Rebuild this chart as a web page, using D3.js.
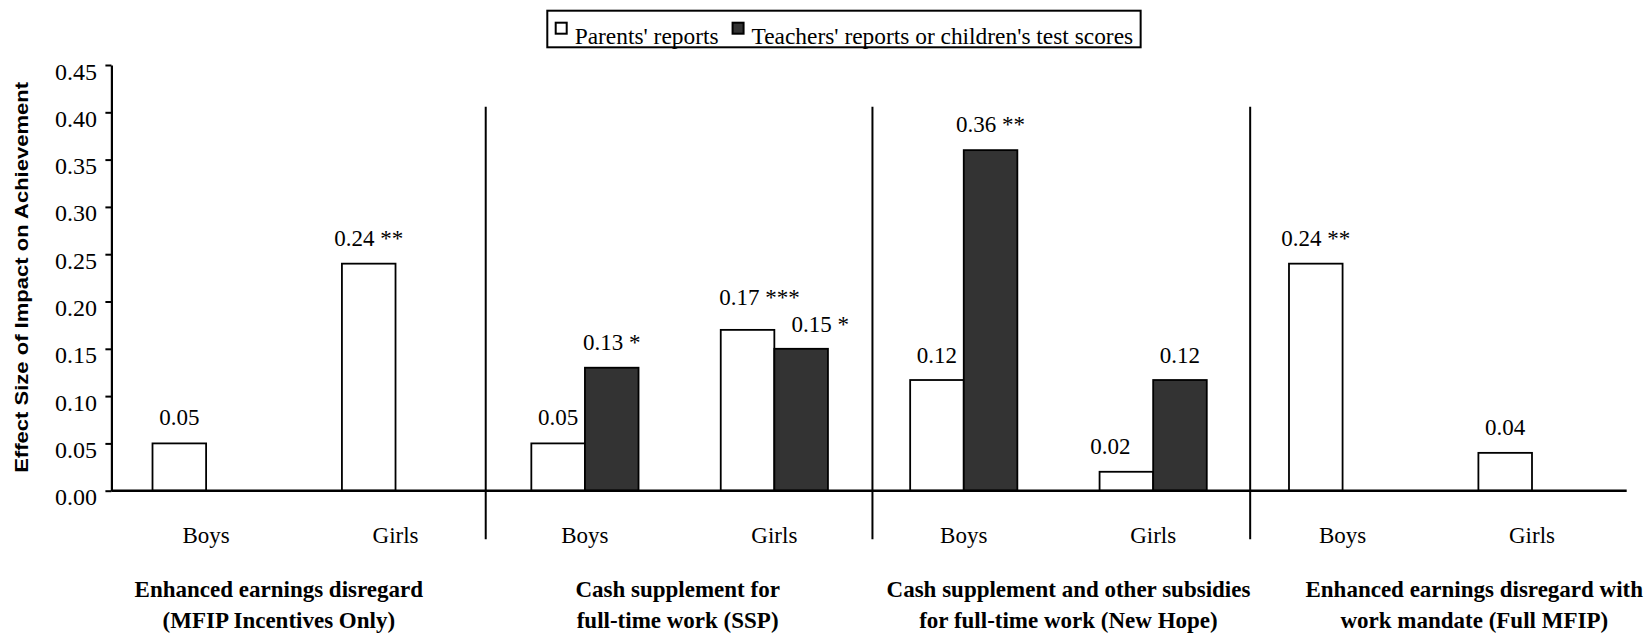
<!DOCTYPE html>
<html>
<head>
<meta charset="UTF-8">
<script src="https://d3js.org/d3.v7.min.js"></script>
<style>
  body { margin: 0; background: #fff; }
</style>
</head>
<body>
<div id="chart"></div>
<script>
// chart values
var programs = [
  ["Enhanced earnings disregard", "(MFIP Incentives Only)"],
  ["Cash supplement for", "full-time work (SSP)"],
  ["Cash supplement and other subsidies", "for full-time work (New Hope)"],
  ["Enhanced earnings disregard with", "work mandate (Full MFIP)"]
];
var sexes = ["Boys", "Girls"];
var seriesNames = ["Parents' reports", "Teachers' reports or children's test scores"];
var parents = [0.05, 0.24, 0.05, 0.17, 0.117, 0.02, 0.24, 0.04];
var teachers = [null, null, 0.13, 0.15, 0.36, 0.117, null, null];
var parentLabels = ["0.05", "0.24 **", "0.05", "0.17 ***", "0.12", "0.02", "0.24 **", "0.04"];
var teacherLabels = [null, null, "0.13 *", "0.15 *", "0.36 **", "0.12", null, null];
var yTicks = [0, 0.05, 0.10, 0.15, 0.20, 0.25, 0.30, 0.35, 0.40, 0.45];

// small hand nudges, as in the original
var parentNudge = [[0, 0], [0, 0], [0, 0], [12, -7], [0, 1], [-16, 0], [0, 0], [0, 0]];
var teacherNudge = [[0, 0], [0, 0], [0, 0], [19, 1], [0, 0], [0, 1], [0, 0], [0, 0]];
var programNudge = [-22, -2, 10, 37];
var sepNudge = [-4.5, 3.4, 2.3];

var SERIF = "'Liberation Serif'";

var W = 1648, H = 633;
var x0 = 111.4, x1 = 1626.7, yTop = 65, yBase = 490.7;

var svg = d3.select("#chart").append("svg")
  .attr("width", W).attr("height", H);

// category keys: one per program/sex pair
var cats = [];
programs.forEach(function (p, i) {
  sexes.forEach(function (s) { cats.push(i + "-" + s); });
});

var x = d3.scaleBand().domain(cats).range([x0, x1]).padding(0);
var xs = d3.scaleBand().domain([0, 1]).range([0, x.bandwidth()]).paddingOuter(0.767).paddingInner(0);
var y = d3.scaleLinear().domain([0, 0.45]).range([yBase, yTop]);

// y axis
var yAxis = svg.append("g")
  .attr("transform", "translate(" + x0 + ",0)")
  .call(d3.axisLeft(y).tickValues(yTicks).tickSize(6).tickSizeOuter(0).tickFormat(d3.format(".2f")));
yAxis.attr("font-family", null).attr("font-size", null);
yAxis.select(".domain").attr("stroke-width", 2.2);
yAxis.selectAll(".tick line").attr("stroke-width", 2);
yAxis.selectAll(".tick text")
  .attr("x", -14.5).attr("dy", null).attr("y", 14)
  .attr("fill", "#000")
  .style("font-size", "24px")
  .style("font-family", SERIF);

// y title
svg.append("text")
  .attr("transform", "translate(28," + ((81.7 + 473) / 2) + ") rotate(-90)")
  .attr("text-anchor", "middle")
  .attr("textLength", 391).attr("lengthAdjust", "spacingAndGlyphs")
  .style("font-family", "'Liberation Sans'")
  .style("font-weight", "bold")
  .style("font-size", "18px")
  .text("Effect Size of Impact on Achievement");

// bars
var rows = [];
cats.forEach(function (c, i) {
  rows.push({ cat: c, s: 0, v: parents[i], lab: parentLabels[i], nd: parentNudge[i] });
  if (teachers[i] != null) rows.push({ cat: c, s: 1, v: teachers[i], lab: teacherLabels[i], nd: teacherNudge[i] });
});

svg.selectAll("rect.bar").data(rows).enter().append("rect")
  .attr("class", "bar")
  .attr("x", function (d) { return x(d.cat) + xs(d.s); })
  .attr("y", function (d) { return y(d.v); })
  .attr("width", xs.bandwidth())
  .attr("height", function (d) { return y(0) - y(d.v); })
  .attr("fill", function (d) { return d.s ? "#333333" : "#ffffff"; })
  .attr("stroke", "#000").attr("stroke-width", 1.8);

svg.selectAll("text.val").data(rows).enter().append("text")
  .attr("class", "val")
  .attr("x", function (d) { return x(d.cat) + xs(d.s) + xs.bandwidth() / 2 + d.nd[0]; })
  .attr("y", function (d) { return y(d.v) - 18 + d.nd[1]; })
  .attr("text-anchor", "middle")
  .style("font-family", SERIF)
  .style("font-size", "23px")
  .text(function (d) { return d.lab; });

// x axis line
svg.append("line")
  .attr("x1", x0).attr("x2", x1).attr("y1", y(0)).attr("y2", y(0))
  .attr("stroke", "#000").attr("stroke-width", 2.4);

// group separators
[1, 2, 3].forEach(function (i) {
  var sx = x(i + "-Boys") + sepNudge[i - 1];
  svg.append("line")
    .attr("x1", sx).attr("x2", sx).attr("y1", 106.7).attr("y2", 539.3)
    .attr("stroke", "#000").attr("stroke-width", 2);
});

// Boys / Girls labels
svg.selectAll("text.cat").data(cats).enter().append("text")
  .attr("class", "cat")
  .attr("x", function (d) { return x(d) + x.bandwidth() / 2; })
  .attr("y", 542.5)
  .attr("text-anchor", "middle")
  .style("font-family", SERIF)
  .style("font-size", "23px")
  .text(function (d) { return d.split("-")[1]; });

// program labels
programs.forEach(function (p, i) {
  var cx = (x(i + "-Boys") + x(i + "-Girls")) / 2 + x.bandwidth() / 2 + programNudge[i];
  var t = svg.append("text")
    .attr("text-anchor", "middle")
    .style("font-family", SERIF)
    .style("font-size", "23px")
    .style("font-weight", "bold");
  p.forEach(function (line, k) {
    t.append("tspan").attr("x", cx).attr("y", 596.7 + k * 31).text(line);
  });
});

// legend
var lg = svg.append("g").attr("transform", "translate(547.3,10.7)");
var box = lg.append("rect")
  .attr("x", 0).attr("y", 0).attr("height", 36.6)
  .attr("fill", "#fff").attr("stroke", "#000").attr("stroke-width", 2);
var lx = 8.4;
seriesNames.forEach(function (name, i) {
  lg.append("rect")
    .attr("x", lx).attr("y", 12).attr("width", 11).attr("height", 11)
    .attr("fill", i ? "#333333" : "#fff")
    .attr("stroke", "#000").attr("stroke-width", 2);
  var t = lg.append("text")
    .attr("x", lx + 19).attr("y", 33.5)
    .style("font-family", SERIF)
    .style("font-size", "23.4px")
    .text(name);
  lx += 19 + t.node().getComputedTextLength() + 14;
});
box.attr("width", lx - 14 + 7.5);
</script>
</body>
</html>
